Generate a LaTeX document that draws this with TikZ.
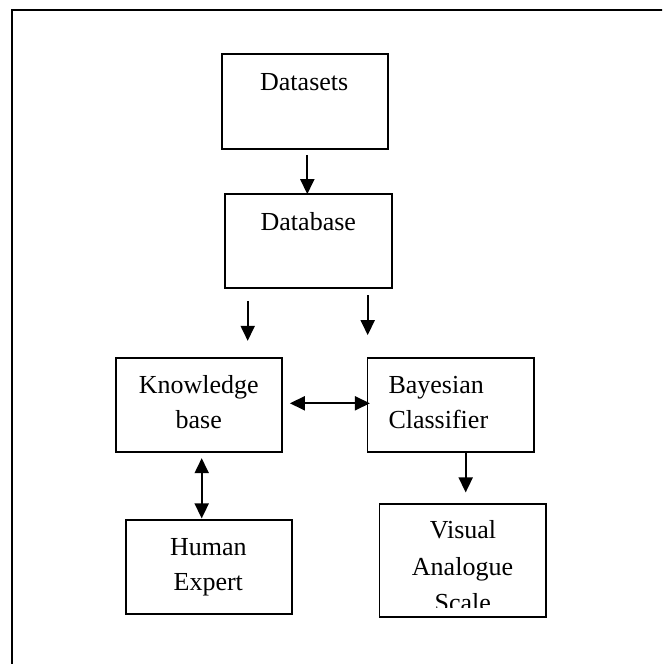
\documentclass[tikz,border=0pt]{standalone}
\usepackage{fontspec}
\setmainfont{Liberation Serif}
\usetikzlibrary{arrows.meta}
\begin{document}
\begin{tikzpicture}[x=1pt,y=-1pt,
  box/.style={draw,line width=1.7pt,rectangle,inner sep=0pt},
  txt/.style={inner sep=0pt,font=\fontsize{26}{35}\selectfont},
  arr/.style={line width=1.8pt,-{Triangle[length=15pt,width=14pt]}},
  darr/.style={line width=1.8pt,{Triangle[length=15pt,width=14pt]}-{Triangle[length=15pt,width=14pt]}}]
\useasboundingbox (0,0) rectangle (662,664);
\clip (0,0) rectangle (662,664);
\draw[line width=2.8pt] (12,10) rectangle (700,700);
% boxes
\node[box,minimum width=166pt,minimum height=94.4pt] (ds) at (304.7,101.5) {};
\node[box,minimum width=166.4pt,minimum height=94pt] (db) at (308.5,241.3) {};
\node[box,minimum width=166pt,minimum height=94pt] (kb) at (198.7,405.3) {};
\node[box,minimum width=166.7pt,minimum height=94pt] (bc) at (450.7,405.3) {};
\node[box,minimum width=166.3pt,minimum height=94pt] (he) at (208.8,567) {};
\node[box,minimum width=166.7pt,minimum height=112.4pt] (vas) at (462.7,560.5) {};
% texts
\node[txt,anchor=base] (t1) at (304.2,90) {Datasets};
\node[txt,anchor=base] (t2) at (308.3,230) {Database};
\node[txt,anchor=base] (t3) at (198.8,393.3) {Knowledge};
\node[txt,anchor=base] (t4) at (198.8,428.3) {base};
\node[txt,anchor=base west] (t5) at (388.3,393.3) {Bayesian};
\node[txt,anchor=base west] (t6) at (388.3,428.3) {Classifier};
\node[txt,anchor=base] (t7) at (208.3,555) {Human};
\node[txt,anchor=base] (t8) at (208.3,590) {Expert};
\node[txt,anchor=base] (t9) at (463,538.3) {Visual};
\node[txt,anchor=base] (t10) at (462.5,575) {Analogue};
\begin{scope}
\clip (370,590) rectangle (550,607.3);
\node[txt,anchor=base] (t11) at (462.7,611) {Scale};
\end{scope}
% arrows
\draw[arr] ([shift={(2.6,5.3)}]ds.south) -- ([shift={(-1.2,0.7)}]db.north);
\draw[arr] ([shift={(-60.8,11.7)}]db.south) -- ([shift={(49,-16.6)}]kb.north);
\draw[arr] ([shift={(59.2,6)}]db.south) -- ([shift={(-83,-22.3)}]bc.north);
\draw[darr] ([shift={(7.3,-2)}]kb.east) -- ([shift={(3.4,-2)}]bc.west);
\draw[darr] ([shift={(3,5)}]kb.south) -- ([shift={(-7.1,-0.7)}]he.north);
\draw[arr] ([shift={(15,0)}]bc.south) -- ([shift={(3,-11)}]vas.north);
\end{tikzpicture}
\end{document}
